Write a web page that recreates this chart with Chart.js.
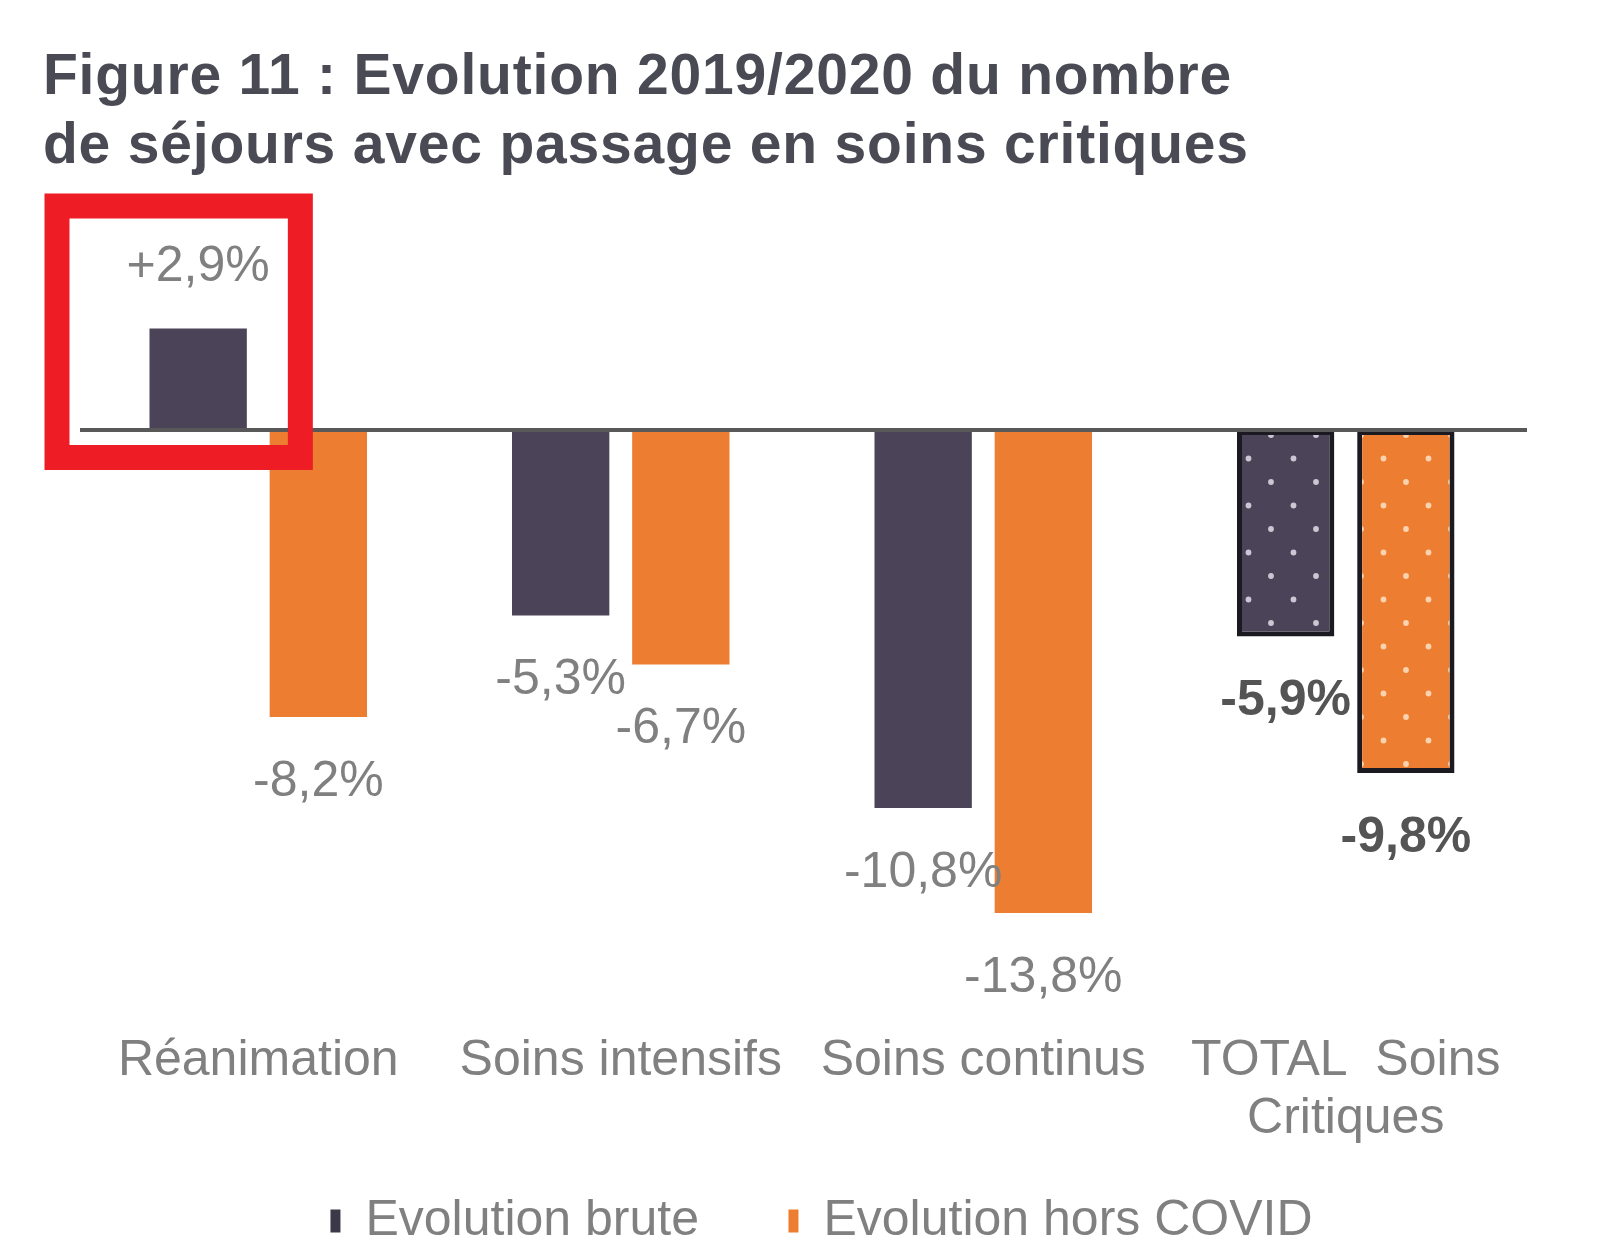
<!DOCTYPE html>
<html>
<head>
<meta charset="utf-8">
<script src="https://cdn.jsdelivr.net/npm/chart.js@4.4.1/dist/chart.umd.min.js"></script>
<style>
  html, body { margin: 0; padding: 0; background: #ffffff; }
  #wrap { width: 1600px; height: 1247px; position: relative; }
</style>
</head>
<body>
<div id="wrap"><canvas id="c"></canvas></div>
<script>
// ---- Data ----
const titleLines = ['Figure 11 : Evolution 2019/2020 du nombre', 'de séjours avec passage en soins critiques'];
const categories = ['Réanimation', 'Soins intensifs', 'Soins continus', ['TOTAL  Soins', 'Critiques']];
const seriesNames = ['Evolution brute', 'Evolution hors COVID'];
const evolutionBrute = [2.9, -5.3, -10.8, -5.9];
const evolutionHorsCovid = [-8.2, -6.7, -13.8, -9.8];
const highlightedIndex = 0;   // category framed in red
const totalIndex = 3;         // category drawn with dotted pattern

// ---- Styles ----
const FONT = '"Liberation Sans", Arial, sans-serif';
const DARK = '#4b4458';
const ORANGE = '#ed7d31';
const LABEL_GRAY = '#808080';

const canvas = document.getElementById('c');
const mainCtx = canvas.getContext('2d');

function dotPattern(base, dot) {
  const t = document.createElement('canvas');
  t.width = 45; t.height = 47;
  const x = t.getContext('2d');
  x.fillStyle = base; x.fillRect(0, 0, 45, 47);
  x.fillStyle = dot;
  [[11, 12], [33.5, 35.5]].forEach(([a, b]) => { x.beginPath(); x.arc(a, b, 2.9, 0, Math.PI * 2); x.fill(); });
  return mainCtx.createPattern(t, 'repeat');
}
const patDark = dotPattern(DARK, '#cbc6d4');
const patOrange = dotPattern(ORANGE, '#fad2ad');

function fmt(v) {
  return (v > 0 ? '+' : '') + v.toFixed(1).replace('.', ',') + '%';
}

const zeroLinePlugin = {
  id: 'zeroLine',
  afterDatasetsDraw(chart) {
    const { ctx, chartArea } = chart;
    const y = chart.scales.y.getPixelForValue(0);
    ctx.save();
    ctx.strokeStyle = '#585858';
    ctx.lineWidth = 4;
    ctx.beginPath();
    ctx.moveTo(chartArea.left + 3, y);
    ctx.lineTo(chartArea.right, y);
    ctx.stroke();
    ctx.restore();
  }
};

const valueLabelPlugin = {
  id: 'valueLabels',
  afterDatasetsDraw(chart) {
    const { ctx } = chart;
    ctx.save();
    ctx.textAlign = 'center';
    ctx.textBaseline = 'middle';
    chart.data.datasets.forEach((ds, di) => {
      const meta = chart.getDatasetMeta(di);
      meta.data.forEach((el, i) => {
        const v = ds.data[i];
        const isTotal = i === totalIndex;
        ctx.font = (isTotal ? 'bold ' : '') + '50px ' + FONT;
        ctx.fillStyle = isTotal ? '#545454' : LABEL_GRAY;
        const y = v >= 0 ? el.y - 61 : el.y + 65;
        ctx.fillText(fmt(v), el.x, y);
      });
    });
    ctx.restore();
  }
};

const highlightPlugin = {
  id: 'highlight',
  afterDatasetsDraw(chart) {
    const { ctx } = chart;
    const el = chart.getDatasetMeta(0).data[highlightedIndex];
    const left = el.x - el.width / 2 - 92.5;
    const right = el.x + el.width / 2 + 53.5;
    const top = Math.min(el.y, el.base) - 122.5;
    const bottom = Math.max(el.y, el.base) + 27.5;
    ctx.save();
    ctx.strokeStyle = '#ee1c25';
    ctx.lineWidth = 25;
    ctx.strokeRect(left, top, right - left, bottom - top);
    ctx.restore();
  }
};

const chart = new Chart(canvas, {
  type: 'bar',
  data: {
    labels: categories,
    datasets: [
      {
        label: seriesNames[0],
        data: evolutionBrute,
        backgroundColor: c => c.dataIndex === totalIndex ? patDark : DARK,
        borderColor: '#1b1a20',
        borderWidth: c => c.dataIndex === totalIndex ? 5 : 0,
        borderSkipped: false,
        categoryPercentage: 0.663,
        barPercentage: 0.81
      },
      {
        label: seriesNames[1],
        data: evolutionHorsCovid,
        backgroundColor: c => c.dataIndex === totalIndex ? patOrange : ORANGE,
        borderColor: '#1b1a20',
        borderWidth: c => c.dataIndex === totalIndex ? 5 : 0,
        borderSkipped: false,
        categoryPercentage: 0.663,
        barPercentage: 0.81
      }
    ]
  },
  options: {
    responsive: true,
    maintainAspectRatio: false,
    devicePixelRatio: 1,
    animation: false,
    layout: { padding: { left: 43, right: 0, top: 0, bottom: -9 } },
    plugins: {
      tooltip: { enabled: false },
      title: {
        display: true,
        text: titleLines,
        align: 'start',
        color: '#4a4a54',
        font: { family: FONT, size: 57, weight: 'bold', lineHeight: 69 / 57 },
        padding: { top: 44, bottom: 108 }
      },
      legend: {
        display: true,
        position: 'bottom',
        align: 'center',
        labels: {
          boxWidth: 10,
          boxHeight: 23,
          padding: 20,
          color: LABEL_GRAY,
          font: { family: FONT, size: 50 },
          generateLabels: () => [
            { text: seriesNames[0] + '     ', fillStyle: '#3b3848', strokeStyle: 'transparent', lineWidth: 0, fontColor: LABEL_GRAY, datasetIndex: 0 },
            { text: seriesNames[1], fillStyle: ORANGE, strokeStyle: 'transparent', lineWidth: 0, fontColor: LABEL_GRAY, datasetIndex: 1 }
          ]
        }
      }
    },
    scales: {
      x: {
        grid: { display: false, drawTicks: false, tickLength: 0 },
        border: { display: false },
        ticks: {
          color: LABEL_GRAY,
          font: { family: FONT, size: 50, lineHeight: 58 / 50 },
          padding: 16,
          autoSkip: false,
          maxRotation: 0,
          minRotation: 0
        },
        afterFit: s => { s.height = 160; }
      },
      y: {
        display: true,
        min: -16.743,
        max: 4,
        grid: { display: false, drawTicks: false },
        border: { display: false },
        ticks: { display: false },
        afterFit: s => { s.width = 34; }
      },
      y2: {
        display: true,
        position: 'right',
        grid: { display: false, drawTicks: false },
        border: { display: false },
        ticks: { display: false },
        afterFit: s => { s.width = 73; }
      }
    }
  },
  plugins: [zeroLinePlugin, valueLabelPlugin, highlightPlugin]
});

// slightly wider letter spacing for the title, as in the source figure
if (chart.titleBlock) {
  const origDraw = chart.titleBlock.draw;
  chart.titleBlock.draw = function (area) {
    const c = this.ctx || chart.ctx;
    c.save();
    c.letterSpacing = '0.8px';
    origDraw.call(this, area);
    c.restore();
  };
  chart.draw();
}
</script>
</body>
</html>
